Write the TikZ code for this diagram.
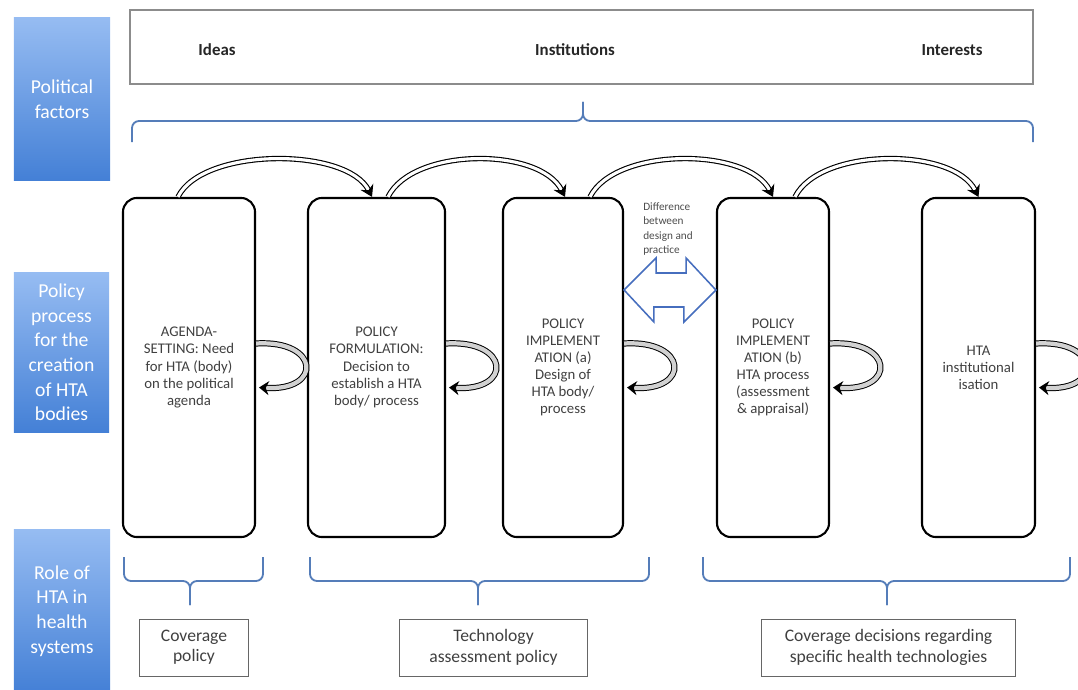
\documentclass[tikz,border=0pt]{standalone}
\usepackage{fontspec}
\setmainfont{Carlito}
\usetikzlibrary{arrows.meta, calc}
\definecolor{sidetop}{RGB}{150, 188, 242}
\definecolor{sidebot}{RGB}{68, 128, 214}
\definecolor{braceblue}{RGB}{85, 125, 185}
\definecolor{gapblue}{RGB}{70, 110, 190}
\definecolor{boxgray}{RGB}{140, 140, 140}

\begin{document}
\begin{tikzpicture}[
        x=0.025cm, y=-0.025cm,
        sidebox/.style={minimum width=2.4cm, minimum height=4.05cm,
            align=center, top color=sidetop, bottom color=sidebot,
            text=white, font=\fontsize{14}{17.5}\selectfont},
        stage/.style={draw=black, line width=1.5pt, rounded corners=10pt,
            minimum height=8.475cm, align=center, text=black!75,
            font=\fontsize{10.5}{12.2}\selectfont},
        factor/.style={font=\fontsize{12}{14}\selectfont\bfseries, text=black!85},
        rolebox/.style={draw=black!60, line width=0.7pt, minimum height=1.425cm,
            align=center, text=black!75, font=\fontsize{12.5}{14.5}\selectfont},
        flow/.style={draw=black, line width=0.8pt, double=white, double distance=2.2pt,
            -{Stealth[length=8pt, width=10pt]}},
        loopy/.style={draw=black, line width=0.7pt, double=gray!35, double distance=3pt,
            -{Stealth[length=7pt, width=10pt]}},
        brc/.style={draw=braceblue, line width=1.3pt, rounded corners=5pt},
        gaparr/.style={draw=gapblue, line width=1.1pt, fill=white, line join=miter}
    ]

    \useasboundingbox (0,0) rectangle (1078,690);

    \node[sidebox] (pf) at (62,99) {Political\\factors};
    \node[sidebox, minimum width=2.375cm, minimum height=3.975cm] (pp) at (61.5,352.5)
        {Policy\\process\\for the\\creation\\of HTA\\bodies};
    \node[sidebox] (role) at (62,611) {Role of\\HTA in\\health\\systems};

    \node[draw=boxgray, line width=1.3pt, minimum width=22.575cm,
          minimum height=1.85cm] (pol) at (581.5,47) {};
    \node[factor] (ideas) at (217,50) {Ideas};
    \node[factor] (inst) at (575,50) {Institutions};
    \node[factor] (intr) at (952,50) {Interests};

    \draw[brc] (132,142) -- (132,121) -- (583,121) -- (583,102);
    \draw[brc] (1033,142) -- (1033,121) -- (583,121) -- (583,102);

    \node[stage, minimum width=3.3cm] (b1) at (189,367.5)
        {AGENDA-\\SETTING: Need\\for HTA (body)\\on the political\\agenda};
    \node[stage, minimum width=3.425cm] (b2) at (376.5,367.5)
        {POLICY\\FORMULATION:\\Decision to\\establish a HTA\\body/ process};
    \node[stage, minimum width=3.0cm] (b3) at (563,367.5)
        {POLICY\\IMPLEMENT\\ATION (a)\\Design of\\HTA body/\\process};
    \node[stage, minimum width=2.8cm] (b4) at (773,367.5)
        {POLICY\\IMPLEMENT\\ATION (b)\\HTA process\\(assessment\\\& appraisal)};
    \node[stage, minimum width=2.825cm] (b5) at (978.5,367.5)
        {HTA\\institutional\\isation};

    \draw[flow] ($(b1.north)+(-11,0)$) .. controls +(25,-50) and +(-25,-50) .. ($(b2.north)+(-4.5,0)$);
    \draw[flow] ($(b2.north)+(11.5,0)$) .. controls +(25,-50) and +(-25,-50) .. ($(b3.north)+(2,0)$);
    \draw[flow] ($(b3.north)+(27,0)$) .. controls +(25,-50) and +(-25,-50) .. ($(b4.north)+(0,0)$);
    \draw[flow] ($(b4.north)+(22,0)$) .. controls +(25,-50) and +(-25,-50) .. ($(b5.north)+(0,0)$);

    \foreach \b in {b1,b2,b3,b4,b5}
        \draw[loopy] ($(\b.east)+(0,-24)$) .. controls +(64,-4) and +(64,4) .. ($(\b.east)+(3,20)$);

    \draw[gaparr] (b3.east |- 0,290) -- ++(32,-32) -- ++(0,15) -- ++(30,0) -- ++(0,-15)
        -- (b4.west |- 0,290) -- ++(-32,32) -- ++(0,-15) -- ++(-30,0) -- ++(0,15) -- cycle;
    \node[align=left, anchor=west, inner sep=0, text=black!70,
          font=\fontsize{8}{10}\selectfont] (diff) at (643,229)
        {Difference\\between\\design and\\practice};

    \draw[brc] (124,557) -- (124,581) -- (190,581) -- (190,605);
    \draw[brc] (263,557) -- (263,581) -- (190,581) -- (190,605);
    \draw[brc] (310,557) -- (310,581) -- (478,581) -- (478,605);
    \draw[brc] (649,557) -- (649,581) -- (478,581) -- (478,605);
    \draw[brc] (703,557) -- (703,581) -- (887,581) -- (887,605);
    \draw[brc] (1070,557) -- (1070,581) -- (887,581) -- (887,605);

    \node[rolebox, minimum width=2.7cm] (cov) at (194,647.5) {Coverage\\policy};
    \node[rolebox, minimum width=4.675cm] (tech) at (493.5,647.5) {Technology\\assessment policy};
    \node[rolebox, minimum width=6.325cm] (dec) at (888.5,647.5)
        {Coverage decisions regarding\\specific health technologies};

\end{tikzpicture}
\end{document}
